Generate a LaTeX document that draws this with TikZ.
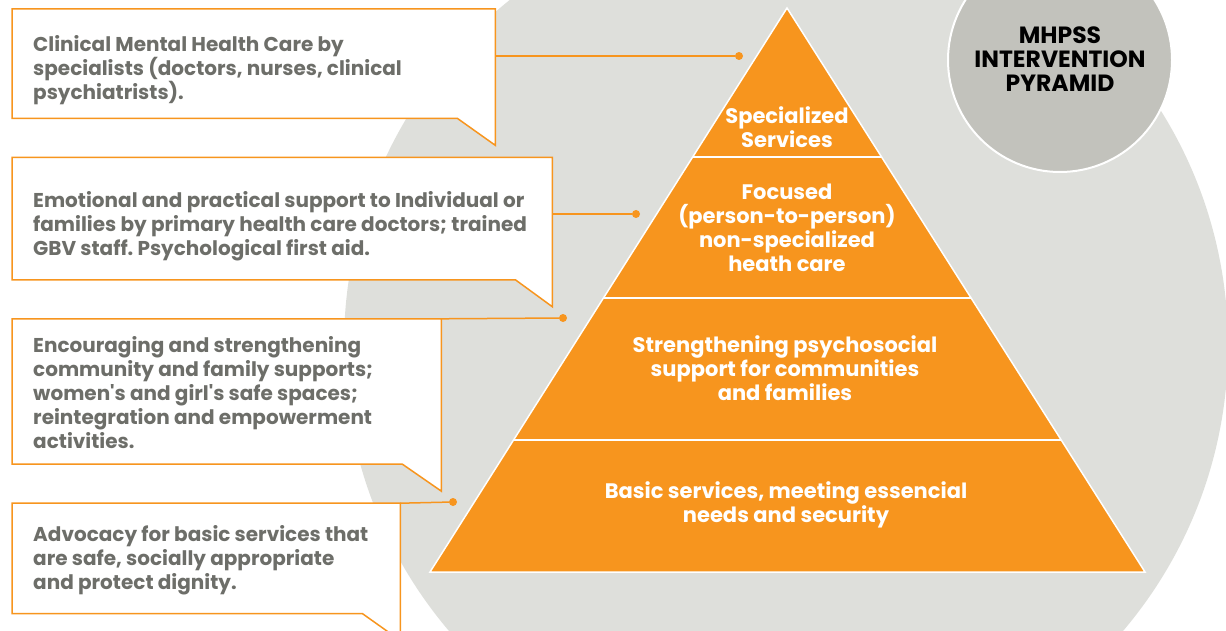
\documentclass[tikz,border=0pt]{standalone}
\usepackage{fontspec}
\setmainfont{Poppins}
\usetikzlibrary{positioning, calc}

\definecolor{mhOrange}{HTML}{F7951E}
\definecolor{mhBack}{HTML}{DEDFDB}
\definecolor{mhDisc}{HTML}{C2C2BC}
\definecolor{mhText}{HTML}{6D6E69}

\begin{document}
\frenchspacing
\begin{tikzpicture}[
    x=1pt, y=-1pt,
    box/.style={inner sep=0pt, anchor=north west},
    note/.style={inner sep=0pt, align=left, text=mhText,
                 font=\fontsize{20}{24}\selectfont\bfseries},
    callout/.style={draw=mhOrange, line width=1.5pt, fill=white},
    link/.style={draw=mhOrange, line width=1.5pt},
    tier/.style={text=white, align=center,
                 font=\fontsize{21}{24}\selectfont\bfseries},
    dot/.style={circle, fill=mhOrange, inner sep=0pt, minimum size=8pt}
]
\useasboundingbox (0,0) rectangle (1226,631);
\clip (0,0) rectangle (1226,631);

% Background discs
\fill[mhBack] (786,345) circle (442);
\filldraw[fill=mhDisc, draw=white, line width=2pt] (1060,60) circle (112);
\node[align=center, font=\fontsize{23.5}{24}\selectfont\bfseries] (title) at (1060,59)
    {MHPSS\\INTERVENTION\\PYRAMID};

% Pyramid
\coordinate (apex) at (787,8);
\coordinate (bl) at (430,572);
\coordinate (br) at (1145,572);
\filldraw[fill=mhOrange, draw=white, line width=1.5pt] (apex) -- (bl) -- (br) -- cycle;
\foreach \f in {0.2642, 0.5142, 0.766}
    \draw[white, line width=1.5pt] ($(apex)!\f!(bl)$) -- ($(apex)!\f!(br)$);

\node[tier] (t1) at (787,127) {Specialized\\Services};
\node[tier] (t2) at (787,228) {Focused\\(person-to-person)\\non-specialized\\heath care};
\node[tier] (t3) at (785,368) {Strengthening psychosocial\\support for communities\\and families};
\node[tier] (t4) at (786,505) {Basic services, meeting essencial\\needs and security};

% Callout boxes
\node[box, minimum width=483pt, minimum height=109pt] (b1) at (12,9) {};
\node[box, below=39pt of b1.south west, anchor=north west, minimum width=540pt, minimum height=122pt] (b2) {};
\node[box, below=39pt of b2.south west, anchor=north west, minimum width=429pt, minimum height=145pt] (b3) {};
\node[box, below=39pt of b3.south west, anchor=north west, minimum width=388pt, minimum height=110pt] (b4) {};

\foreach \b/\dx in {b1/38, b2/37, b3/39, b4/38}
    \path[callout] (\b.north west) -- (\b.north east) -- ([yshift=-27pt]\b.south east)
        -- ([xshift=-\dx pt]\b.south east) -- (\b.south west) -- cycle;

\node[note, below right=26pt and 21pt of b1.north west] (n1)
    {Clinical Mental Health Care by\\specialists (doctors, nurses, clinical\\psychiatrists).};
\node[note, below right=34pt and 21pt of b2.north west] (n2)
    {Emotional and practical support to Individual or\\families by primary health care doctors; trained\\GBV staff. Psychological first aid.};
\node[note, below right=17pt and 21pt of b3.north west] (n3)
    {Encouraging and strengthening\\community and family supports;\\women\textquotesingle s and girl\textquotesingle s safe spaces;\\reintegration and empowerment\\activities.};
\node[note, below right=22pt and 21pt of b4.north west] (n4)
    {Advocacy for basic services that\\are safe, socially appropriate\\and protect dignity.};

% Leader lines
\node[dot] (d1) at (739,56) {};
\node[dot] (d2) at (636,214) {};
\node[dot] (d3) at (563,318) {};
\node[dot] (d4) at (453,502) {};
\draw[link] (b1.east |- d1) -- (d1);
\draw[link] (b2.east |- d2) -- (d2);
\draw[link] (b3.north east) -- (d3);
\draw[link] (b4.north east) -- (d4);

\end{tikzpicture}
\end{document}
